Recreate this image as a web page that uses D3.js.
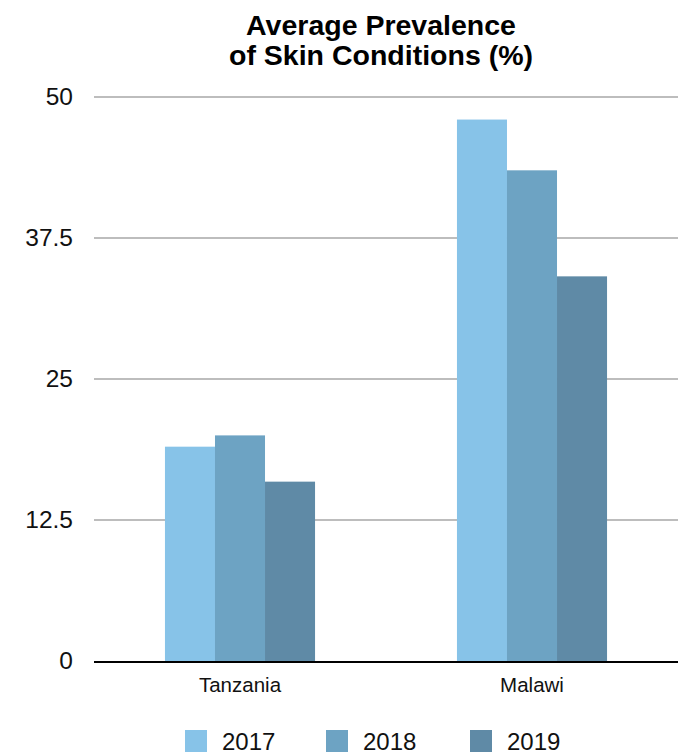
<!DOCTYPE html>
<html>
<head>
<meta charset="utf-8">
<script src="https://cdn.jsdelivr.net/npm/d3@7"></script>
<style>
  html, body { margin: 0; padding: 0; background: #fff; }
  svg { display: block; font-family: "Liberation Sans", Arial, Helvetica, sans-serif; }
</style>
</head>
<body>
<svg id="chart" width="686" height="756"></svg>
<script>
// Data
const categories = ["Tanzania", "Malawi"];
const years = ["2017", "2018", "2019"];
const values2017 = [19, 48];
const values2018 = [20, 43.5];
const values2019 = [15.9, 34.1];
const yTicks = [0, 12.5, 25, 37.5, 50];
const titleLines = ["Average Prevalence", "of Skin Conditions (%)"];

const seriesValues = [values2017, values2018, values2019];
const colors = ["#87c3e8", "#6da3c3", "#5f8aa6"];

const svg = d3.select("#chart");
const margin = { left: 94, right: 8, top: 97, bottom: 95 };
const W = 686, H = 756;

const x0 = d3.scaleBand()
  .domain(categories)
  .range([margin.left, W - margin.right])
  .paddingInner(0.486)
  .paddingOuter(0.243);

const x1 = d3.scaleBand()
  .domain(years)
  .range([0, x0.bandwidth()])
  .padding(0);

const y = d3.scaleLinear()
  .domain([0, 50])
  .range([H - margin.bottom, margin.top]);

const color = d3.scaleOrdinal().domain(years).range(colors);

// Title
svg.append("g")
  .selectAll("text")
  .data(titleLines)
  .join("text")
  .attr("x", 381)
  .attr("y", (d, i) => 35 + i * 30)
  .attr("text-anchor", "middle")
  .attr("font-size", 28.5)
  .attr("font-weight", "bold")
  .attr("fill", "#000")
  .text(d => d);

// Gridlines
const gridG = svg.append("g");
gridG.selectAll("line")
  .data(yTicks.filter(t => t !== 0))
  .join("line")
  .attr("x1", margin.left)
  .attr("x2", W - margin.right)
  .attr("y1", d => y(d))
  .attr("y2", d => y(d))
  .attr("stroke", "#bdbdbd")
  .attr("stroke-width", 2);

// Y axis labels
const yAxis = d3.axisLeft(y)
  .tickValues(yTicks)
  .tickSize(0)
  .tickPadding(0)
  .tickFormat(d => String(d));
const yg = svg.append("g")
  .attr("transform", `translate(73,0)`)
  .call(yAxis);
yg.select(".domain").remove();
yg.selectAll("text")
  .attr("font-size", 24.5)
  .attr("fill", "#111")
  .attr("font-family", "Liberation Sans, Arial, sans-serif");

// Bars
const groups = svg.append("g")
  .selectAll("g")
  .data(categories)
  .join("g")
  .attr("transform", d => `translate(${x0(d)},0)`);

groups.selectAll("rect")
  .data((d, i) => years.map((yr, k) => ({ year: yr, value: seriesValues[k][i] })))
  .join("rect")
  .attr("x", d => x1(d.year))
  .attr("width", x1.bandwidth())
  .attr("y", d => y(d.value))
  .attr("height", d => y(0) - y(d.value))
  .attr("fill", d => color(d.year));

// Baseline
svg.append("line")
  .attr("x1", margin.left)
  .attr("x2", W - margin.right)
  .attr("y1", y(0) + 1)
  .attr("y2", y(0) + 1)
  .attr("stroke", "#000")
  .attr("stroke-width", 2);

// X axis labels
const xAxis = d3.axisBottom(x0).tickSize(0).tickPadding(0);
const xg = svg.append("g")
  .attr("transform", `translate(0,${y(0) + 16})`)
  .call(xAxis);
xg.select(".domain").remove();
xg.selectAll("text")
  .attr("font-size", 20.5)
  .attr("fill", "#111")
  .attr("font-family", "Liberation Sans, Arial, sans-serif");

// Legend
const legendX = [185, 326, 470];
const legend = svg.append("g")
  .selectAll("g")
  .data(years)
  .join("g")
  .attr("transform", (d, i) => `translate(${legendX[i]},730)`);
legend.append("rect")
  .attr("width", 22)
  .attr("height", 22)
  .attr("fill", d => color(d));
legend.append("text")
  .attr("x", 37)
  .attr("y", 20)
  .attr("font-size", 24)
  .attr("fill", "#111")
  .text(d => d);
</script>
</body>
</html>
